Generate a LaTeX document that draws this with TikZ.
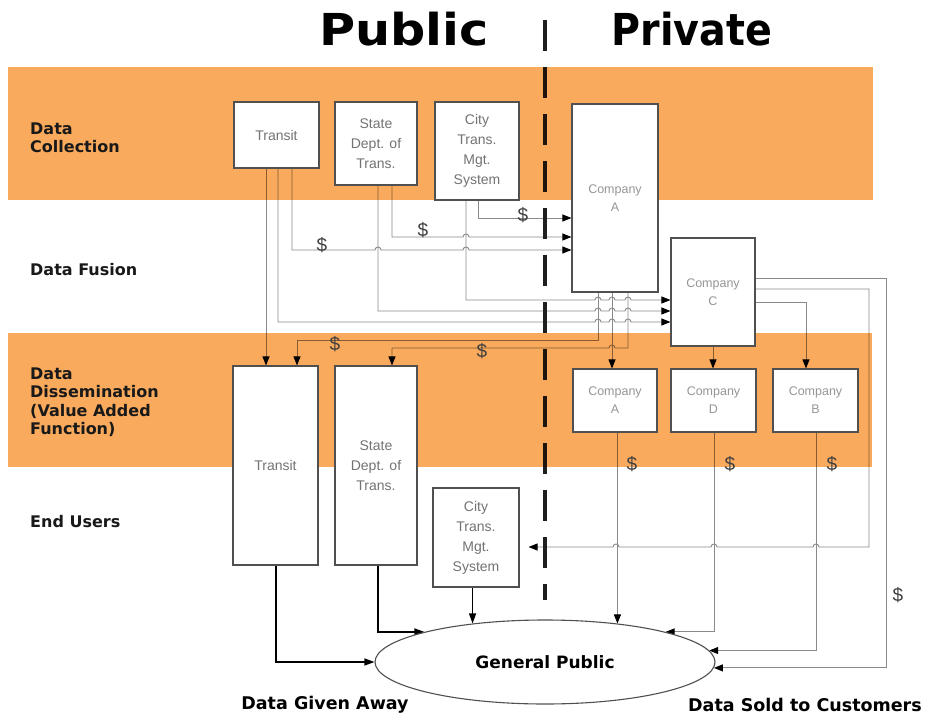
\documentclass[tikz,border=0pt]{standalone}
\usepackage{fontspec}
\setmainfont{Liberation Sans}
\newfontfamily\heavy{DejaVu Sans}
\usetikzlibrary{arrows.meta,shapes.geometric}

\definecolor{bandorange}{RGB}{250,170,92}
\definecolor{wiregray}{RGB}{138,138,138}
\definecolor{framegray}{RGB}{80,80,80}
\definecolor{labelgray}{RGB}{115,115,115}
\definecolor{cogray}{RGB}{150,150,150}

\pgfdeclarelayer{bg}
\pgfdeclarelayer{tint}
\pgfsetlayers{bg,tint,main}

\begin{document}
\begin{tikzpicture}[x=1pt,y=-1pt,
  band/.style={fill=bandorange, draw=none},
  box/.style={draw=framegray, line width=1.1pt, fill=white, inner sep=0pt, align=center,
      text=labelgray, font=\fontsize{14}{20}\selectfont},
  cobox/.style={box, text=cogray, font=\fontsize{12.5}{18}\selectfont},
  rowlabel/.style={anchor=west, align=left, inner sep=0pt,
      font=\heavy\bfseries\fontsize{16}{18.5}\selectfont, text=black!90},
  title/.style={inner sep=0pt, font=\heavy\bfseries\fontsize{44}{44}\selectfont},
  foot/.style={inner sep=0pt, font=\heavy\bfseries\fontsize{17.5}{20}\selectfont},
  fee/.style={inner sep=0pt, font=\fontsize{19}{19}\selectfont, text=black!75},
  wire/.style={draw=wiregray, line width=0.9pt},
  feed/.style={wire, -{Triangle[length=9pt,width=7pt,color=black]}},
  give/.style={draw=black, line width=1.3pt, -{Triangle[length=10pt,width=7pt]}},
  divider/.style={draw=black!88, line width=4pt, dash pattern=on 31pt off 16pt},
  hopr/.style 2 args={insert path={-- ({#1-3},#2) arc[start angle=180,end angle=360,radius=3]}},
  hopl/.style 2 args={insert path={-- ({#1+3},#2) arc[start angle=0,end angle=-180,radius=3]}},
]
\useasboundingbox (0,0) rectangle (930,715);

% headings
\node[title] (pub)  at (404,29) {\scalebox{1.12}[1]{Public}};
\node[title] (priv) at (692,29) {\scalebox{0.9}[1]{Private}};

% row labels
\node[rowlabel] (lcol) at (30,138) {Data\\Collection};
\node[rowlabel] (lfus) at (30,270) {Data Fusion};
\node[rowlabel] (ldis) at (30,402) {Data\\Dissemination\\(Value Added\\Function)};
\node[rowlabel] (lend) at (30,522) {End Users};

% collection stage
\node[box, minimum width=85pt, minimum height=66pt] (tT) at (276.5,135) {Transit};
\node[box, minimum width=82pt, minimum height=83pt] (tS) at (376,143.5) {State\\Dept. of\\Trans.};
\node[box, minimum width=84pt, minimum height=98pt] (tC) at (477,151) {City\\Trans.\\Mgt.\\System};
\node[cobox, minimum width=86pt, minimum height=188pt] (cA) at (615,198) {Company\\A};

% fusion stage
\node[cobox, minimum width=84pt, minimum height=108pt] (cC) at (713,292) {Company\\C};

% dissemination stage
\node[cobox, minimum width=84pt, minimum height=63pt] (lA) at (615,400.5) {Company\\A};
\node[cobox, minimum width=85pt, minimum height=63pt] (lD) at (713.5,400.5) {Company\\D};
\node[cobox, minimum width=85pt, minimum height=63pt] (lB) at (815.5,400.5) {Company\\B};
\node[box, minimum width=85pt, minimum height=199pt] (bT) at (275.5,465.5) {Transit};
\node[box, minimum width=82pt, minimum height=199pt] (bS) at (376,465.5) {State\\Dept. of\\Trans.};

% end users
\node[box, minimum width=86pt, minimum height=99pt] (bC) at (476,537.5) {City\\Trans.\\Mgt.\\System};
\node[ellipse, draw=framegray, line width=1.1pt, fill=white, inner sep=0pt,
      minimum width=340pt, minimum height=84pt,
      font=\heavy\bfseries\fontsize{17}{20}\selectfont] (gp) at (545,662) {General Public};

\node[foot] (fga) at (325,705) {Data Given Away};
\node[foot] (fsc) at (805,705) {Data Sold to Customers};

\begin{pgfonlayer}{bg}
  \fill[white] (0,0) rectangle (930,715);

  % collection -> company A
  \draw[feed] (292,0 |- tT.south) -- (292,250) [hopr={378}{250}] [hopr={466}{250}] -- (cA.west |- 0,250);
  \draw[feed] (392,0 |- tS.south) -- (392,237) [hopr={466}{237}] -- (cA.west |- 0,237);
  \draw[feed] (478,0 |- tC.south) -- (478,218) -- (cA.west |- 0,218);

  % collection -> company C
  \draw[feed] (278,0 |- tT.south) -- (278,322) [hopr={598}{322}] [hopr={612}{322}] [hopr={628}{322}] -- (cC.west |- 0,322);
  \draw[feed] (378,0 |- tS.south) -- (378,311) [hopr={598}{311}] [hopr={612}{311}] [hopr={628}{311}] -- (cC.west |- 0,311);
  \draw[feed] (466,0 |- tC.south) -- (466,300) [hopr={598}{300}] [hopr={612}{300}] [hopr={628}{300}] -- (cC.west |- 0,300);

  % transit keeps its own data
  \draw[feed] (266,0 |- tT.south) -- (266,0 |- bT.north);

  % company A -> dissemination
  \draw[feed] (598,0 |- cA.south) -- (598,340) -- (297,340) -- (297,0 |- bT.north);
  \draw[feed] (612,0 |- cA.south) -- (612,0 |- lA.north);
  \draw[feed] (628,0 |- cA.south) -- (628,348) [hopl={612}{348}] -- (392,348) -- (392,0 |- bS.north);

  % company C -> dissemination and users
  \draw[feed] (713,0 |- cC.south) -- (713,0 |- lD.north);
  \draw[feed] (cC.east |- 0,302) -- (806,302) -- (806,0 |- lB.north);
  \draw[feed, shorten >=9pt] (cC.east |- 0,289) -- (869,289) -- (869,547)
      [hopl={816}{547}] [hopl={714}{547}] [hopl={616}{547}] -- (bC.east |- 0,547);
  \draw[feed] (cC.east |- 0,278) -- (886,278) -- (886,0 |- gp.-2.7) -- (gp.-2.7);

  % private sales to the public
  \draw[feed] (gp.28.3 |- lA.south) -- (gp.28.3);
  \draw[feed] (714,0 |- lD.south) -- (714,0 |- gp.14.3) -- (gp.14.3);
  \draw[feed] (816,0 |- lB.south) -- (816,0 |- gp.4.4) -- (gp.4.4);

  % public data given away
  \draw[give] (276,0 |- bT.south) -- (276,0 |- gp.west) -- (gp.west);
  \draw[give] (378,0 |- bS.south) -- (378,0 |- gp.166) -- (gp.166);
  \draw[give] (gp.152.6 |- bC.south) -- (gp.152.6);

  % public / private divide
  \coordinate (divtop) at (545,20);
  \coordinate (divbot) at (545,600);
  \draw[divider] (divtop) -- (divbot);
\end{pgfonlayer}

% stage bands, tinting whatever runs beneath them
\begin{pgfonlayer}{tint}
  \begin{scope}[blend mode=multiply]
    \fill[band] (8,67) rectangle (873,200);
    \fill[band] (8,333) rectangle (872,467);
  \end{scope}
\end{pgfonlayer}

% fees
\node[fee] (f1) at (322,245) {\$};
\node[fee] (f2) at (423,230) {\$};
\node[fee] (f3) at (523,215) {\$};
\node[fee] (f4) at (335,344) {\$};
\node[fee] (f5) at (482,351) {\$};
\node[fee] (f6) at (632,464) {\$};
\node[fee] (f7) at (730,464) {\$};
\node[fee] (f8) at (832,464) {\$};
\node[fee] (f9) at (898,595) {\$};
\end{tikzpicture}
\end{document}
